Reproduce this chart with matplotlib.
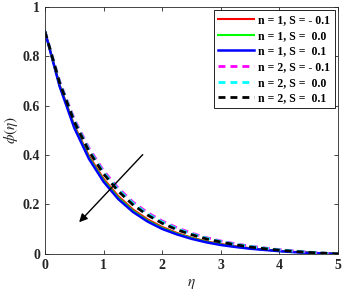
"""Concentration profile phi(eta) for n and S variations."""
import matplotlib
matplotlib.use("Agg")
import matplotlib.pyplot as plt

eta = [0.0, 0.25, 0.5, 0.75, 1.0, 1.25, 1.5, 1.75, 2.0, 2.25, 2.5,
       2.75, 3.0, 3.25, 3.5, 3.75, 4.0, 4.25, 4.5, 4.75, 5.0]

phi_n1_sm01 = [0.900, 0.684, 0.520, 0.397, 0.304, 0.234, 0.180, 0.140, 0.109, 0.085, 0.066,
               0.051, 0.040, 0.031, 0.023, 0.017, 0.012, 0.008, 0.005, 0.002, 0.000]
phi_n1_s00 = [0.900, 0.681, 0.515, 0.391, 0.298, 0.228, 0.175, 0.135, 0.105, 0.082, 0.064,
              0.049, 0.038, 0.029, 0.022, 0.017, 0.012, 0.008, 0.005, 0.002, 0.000]
phi_n1_s01 = [0.900, 0.678, 0.510, 0.385, 0.292, 0.222, 0.170, 0.131, 0.101, 0.079, 0.061,
              0.047, 0.036, 0.028, 0.021, 0.016, 0.011, 0.007, 0.004, 0.002, 0.000]
phi_n2_sm01 = [0.900, 0.698, 0.545, 0.428, 0.336, 0.266, 0.210, 0.167, 0.133, 0.106, 0.084,
               0.066, 0.052, 0.041, 0.031, 0.024, 0.017, 0.012, 0.007, 0.003, 0.000]
phi_n2_s00 = [0.900, 0.695, 0.540, 0.422, 0.330, 0.260, 0.205, 0.162, 0.129, 0.102, 0.081,
              0.064, 0.050, 0.039, 0.030, 0.023, 0.016, 0.011, 0.007, 0.003, 0.000]
phi_n2_s01 = [0.900, 0.692, 0.535, 0.416, 0.324, 0.254, 0.199, 0.157, 0.124, 0.098, 0.078,
              0.061, 0.048, 0.037, 0.028, 0.021, 0.015, 0.010, 0.006, 0.003, 0.000]

labels = ["n = 1, S = - 0.1", "n = 1, S =  0.0", "n = 1, S =  0.1",
          "n = 2, S = - 0.1", "n = 2, S =  0.0", "n = 2, S =  0.1"]

plt.rcParams["font.family"] = "Liberation Serif"
plt.rcParams["mathtext.fontset"] = "stix"

fig = plt.figure(figsize=(3.46, 2.98), dpi=100)
ax = fig.add_axes([0.13, 0.148, 0.847, 0.829])

ax.plot(eta, phi_n1_sm01, "-", color="red", lw=1.5, label=labels[0])
ax.plot(eta, phi_n1_s00, "-", color="#00ff00", lw=1.5, label=labels[1])
ax.plot(eta, phi_n1_s01, "-", color="blue", lw=1.8, label=labels[2])
ax.plot(eta, phi_n2_sm01, "--", color="magenta", lw=2.0, dashes=(2.5, 1.8), label=labels[3])
ax.plot(eta, phi_n2_s00, "--", color="cyan", lw=2.0, dashes=(2.5, 1.8), label=labels[4])
ax.plot(eta, phi_n2_s01, "--", color="black", lw=2.0, dashes=(2.5, 1.8), label=labels[5])

# arrow showing direction of increasing S
ax.annotate("", xy=(0.55, 0.12), xytext=(1.7, 0.41),
            arrowprops=dict(arrowstyle="-|>", color="black", lw=1.0,
                            mutation_scale=12))

ax.set_xlim(0, 5)
ax.set_ylim(0, 1)
ax.set_xticks([0, 1, 2, 3, 4, 5])
ax.set_yticks([0, 0.2, 0.4, 0.6, 0.8, 1])
ax.set_yticklabels(["0", "0.2", "0.4", "0.6", "0.8", "1"])
ax.tick_params(direction="in", top=True, right=True, length=3, width=0.6,
               labelsize=10, colors="#262626")
for lbl in ax.get_xticklabels() + ax.get_yticklabels():
    lbl.set_fontweight("bold")
for sp in ax.spines.values():
    sp.set_color("#262626")
    sp.set_linewidth(0.6)

ax.set_xlabel(r"$\eta$", fontsize=11, color="#262626")
ax.set_ylabel(r"$\phi(\eta)$", fontsize=11, color="#262626", labelpad=2)

leg = ax.legend(loc="upper right", handlelength=3.0,
                labelspacing=0.3, borderpad=0.35, handletextpad=0.4,
                prop={"weight": "bold", "size": 8.5}, fancybox=False,
                framealpha=1, edgecolor="black", borderaxespad=0.3)
leg.get_frame().set_linewidth(0.6)

fig.savefig("out.png", dpi=100)
